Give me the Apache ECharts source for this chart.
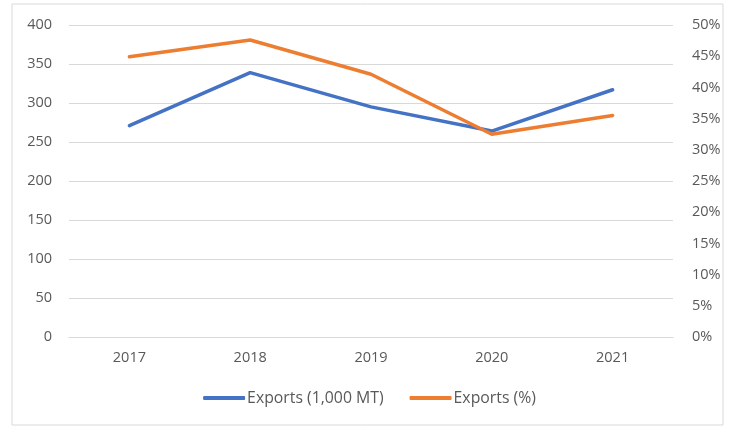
<!DOCTYPE html>
<html><head><meta charset="utf-8">
<script src="https://cdn.jsdelivr.net/npm/echarts@6/dist/echarts.min.js"></script>
<style>html,body{margin:0;padding:0;background:#fff}#c{width:739px;height:426px}</style>
</head><body><div id="c"></div>
<script>
var categories = ['2017','2018','2019','2020','2021'];
var exportsMT = [271, 339, 295, 264, 317];
var exportsPct = [44.9, 47.6, 42.1, 32.5, 35.5];
var leftTicks = {min:0, max:400, interval:50};
var rightTicks = {min:0, max:50, interval:5};

var chart = echarts.init(document.getElementById('c'));
var font = "'Open Sans', 'Liberation Sans', sans-serif";
chart.setOption({
  animation:false,
  textStyle:{fontFamily:font},
  graphic:[{type:'rect',shape:{x:12,y:4,width:711,height:421},style:{fill:'none',stroke:'#d9d9d9',lineWidth:1},silent:true,z:-1}],
  grid:{left:69,right:66,top:25,bottom:89},
  legend:{
    bottom:15,left:'center',itemWidth:42,itemHeight:4,itemGap:26,
    icon:'roundRect',
    textStyle:{color:'#595959',fontSize:15.8,fontFamily:font,padding:[0,0,0,-3]},
    data:['Exports (1,000 MT)','Exports (%)']
  },
  xAxis:{type:'category',data:categories,boundaryGap:true,
    axisLine:{lineStyle:{color:'#d9d9d9'}},axisTick:{show:false},
    axisLabel:{color:'#595959',fontSize:14.5,margin:13}},
  yAxis:[
    {type:'value',min:leftTicks.min,max:leftTicks.max,interval:leftTicks.interval,
     axisLine:{show:false},axisTick:{show:false},
     splitLine:{lineStyle:{color:'#d9d9d9'}},
     axisLabel:{color:'#595959',fontSize:14.5,margin:17}},
    {type:'value',min:rightTicks.min,max:rightTicks.max,interval:rightTicks.interval,
     axisLine:{show:false},axisTick:{show:false},splitLine:{show:false},
     axisLabel:{color:'#595959',fontSize:14.5,margin:19,formatter:'{value}%'}}
  ],
  series:[
    {name:'Exports (1,000 MT)',type:'line',data:exportsMT,yAxisIndex:0,
     showSymbol:false,symbol:'none',lineStyle:{color:'#4472C4',width:3.5,cap:'round'},itemStyle:{color:'#4472C4'}},
    {name:'Exports (%)',type:'line',data:exportsPct,yAxisIndex:1,
     showSymbol:false,symbol:'none',lineStyle:{color:'#ED7D31',width:3.5,cap:'round'},itemStyle:{color:'#ED7D31'}}
  ]
});
</script></body></html>
